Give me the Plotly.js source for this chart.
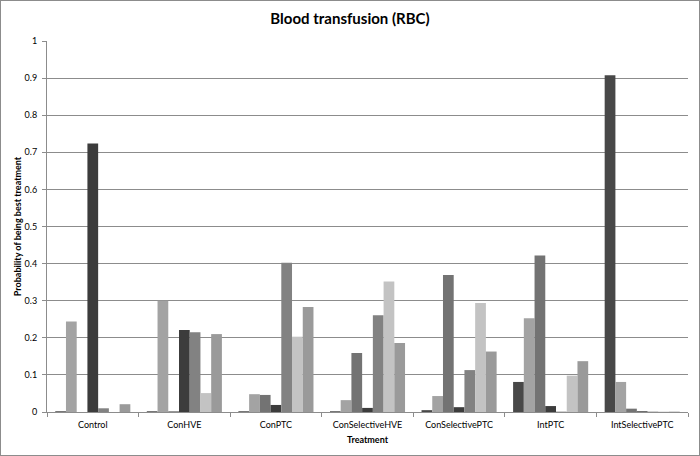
<!DOCTYPE html>
<html>
<head>
<meta charset="utf-8">
<script src="https://cdn.plot.ly/plotly-3.0.1.min.js"></script>
<style>
  html, body { margin: 0; padding: 0; background: #fff; }
  #frame { position: absolute; left: 0; top: 0; width: 698px; height: 454px; border: 1px solid #8c8c8c; }
  #chart { width: 698px; height: 454px; }
</style>
</head>
<body>
<div id="frame"><div id="chart"></div></div>
<script>
// Categories (treatments)
const categories = ["Control", "ConHVE", "ConPTC", "ConSelectiveHVE", "ConSelectivePTC", "IntPTC", "IntSelectivePTC"];

// Seven series (one bar per series in each treatment group)
const series1 = [0.002, 0.002, 0.002, 0.002, 0.005, 0.081, 0.908];
const series2 = [0.244, 0.300, 0.048, 0.032, 0.043, 0.253, 0.081];
const series3 = [0.000, 0.002, 0.046, 0.159, 0.369, 0.422, 0.009];
const series4 = [0.724, 0.221, 0.019, 0.011, 0.013, 0.016, 0.002];
const series5 = [0.010, 0.215, 0.402, 0.261, 0.113, 0.001, 0.001];
const series6 = [0.000, 0.051, 0.203, 0.352, 0.294, 0.098, 0.001];
const series7 = [0.021, 0.210, 0.283, 0.186, 0.163, 0.137, 0.001];

const allSeries = [series1, series2, series3, series4, series5, series6, series7];
const colors = ["#484848", "#a3a3a3", "#737373", "#3c3c3c", "#828282", "#c3c3c3", "#9a9a9a"];

const yTicks = [0, 0.1, 0.2, 0.3, 0.4, 0.5, 0.6, 0.7, 0.8, 0.9, 1];
const yTickText = ["0", "0.1", "0.2", "0.3", "0.4", "0.5", "0.6", "0.7", "0.8", "0.9", "1"];

const traces = allSeries.map((vals, i) => ({
  type: "bar",
  x: categories,
  y: vals,
  name: "Series " + (i + 1),
  marker: { color: colors[i], line: { width: 0 } },
  hoverinfo: "x+y"
}));

const font = "Lato, 'Open Sans', 'DejaVu Sans', sans-serif";

const layout = {
  width: 698,
  height: 454,
  margin: { l: 46, r: 11, t: 40, b: 43 },
  paper_bgcolor: "#ffffff",
  plot_bgcolor: "#ffffff",
  showlegend: false,
  barmode: "group",
  bargap: 0.18,
  bargroupgap: 0,
  font: { family: font, size: 9, color: "#000" },
  title: {
    text: "<b>Blood transfusion (RBC)</b>",
    font: { family: font, size: 15, color: "#000" },
    x: 0.5, xanchor: "center", y: 0.96, yanchor: "middle"
  },
  xaxis: {
    type: "category",
    title: { text: "<b>Treatment</b>", font: { family: font, size: 9, color: "#000" }, standoff: 7 },
    showline: true, linecolor: "#8c8c8c", linewidth: 1,
    ticks: "outside", ticklen: 4, tickcolor: "#8c8c8c",
    tickson: "boundaries",
    ticklabelstandoff: 4,
    showgrid: false,
    tickfont: { family: font, size: 9, color: "#000" }
  },
  yaxis: {
    range: [0, 1],
    tickvals: yTicks,
    ticktext: yTickText,
    title: { text: "<b>Probability of being best treatment</b>", font: { family: font, size: 9, color: "#000" }, standoff: 1 },
    showline: true, linecolor: "#8c8c8c", linewidth: 1,
    ticks: "outside", ticklen: 4, tickcolor: "#8c8c8c",
    ticklabelstandoff: 3,
    showgrid: true, gridcolor: "#8c8c8c", gridwidth: 1,
    zeroline: false,
    tickfont: { family: font, size: 9, color: "#000" }
  }
};

Plotly.newPlot("chart", traces, layout, { displayModeBar: false, staticPlot: true });
</script>
</body>
</html>
